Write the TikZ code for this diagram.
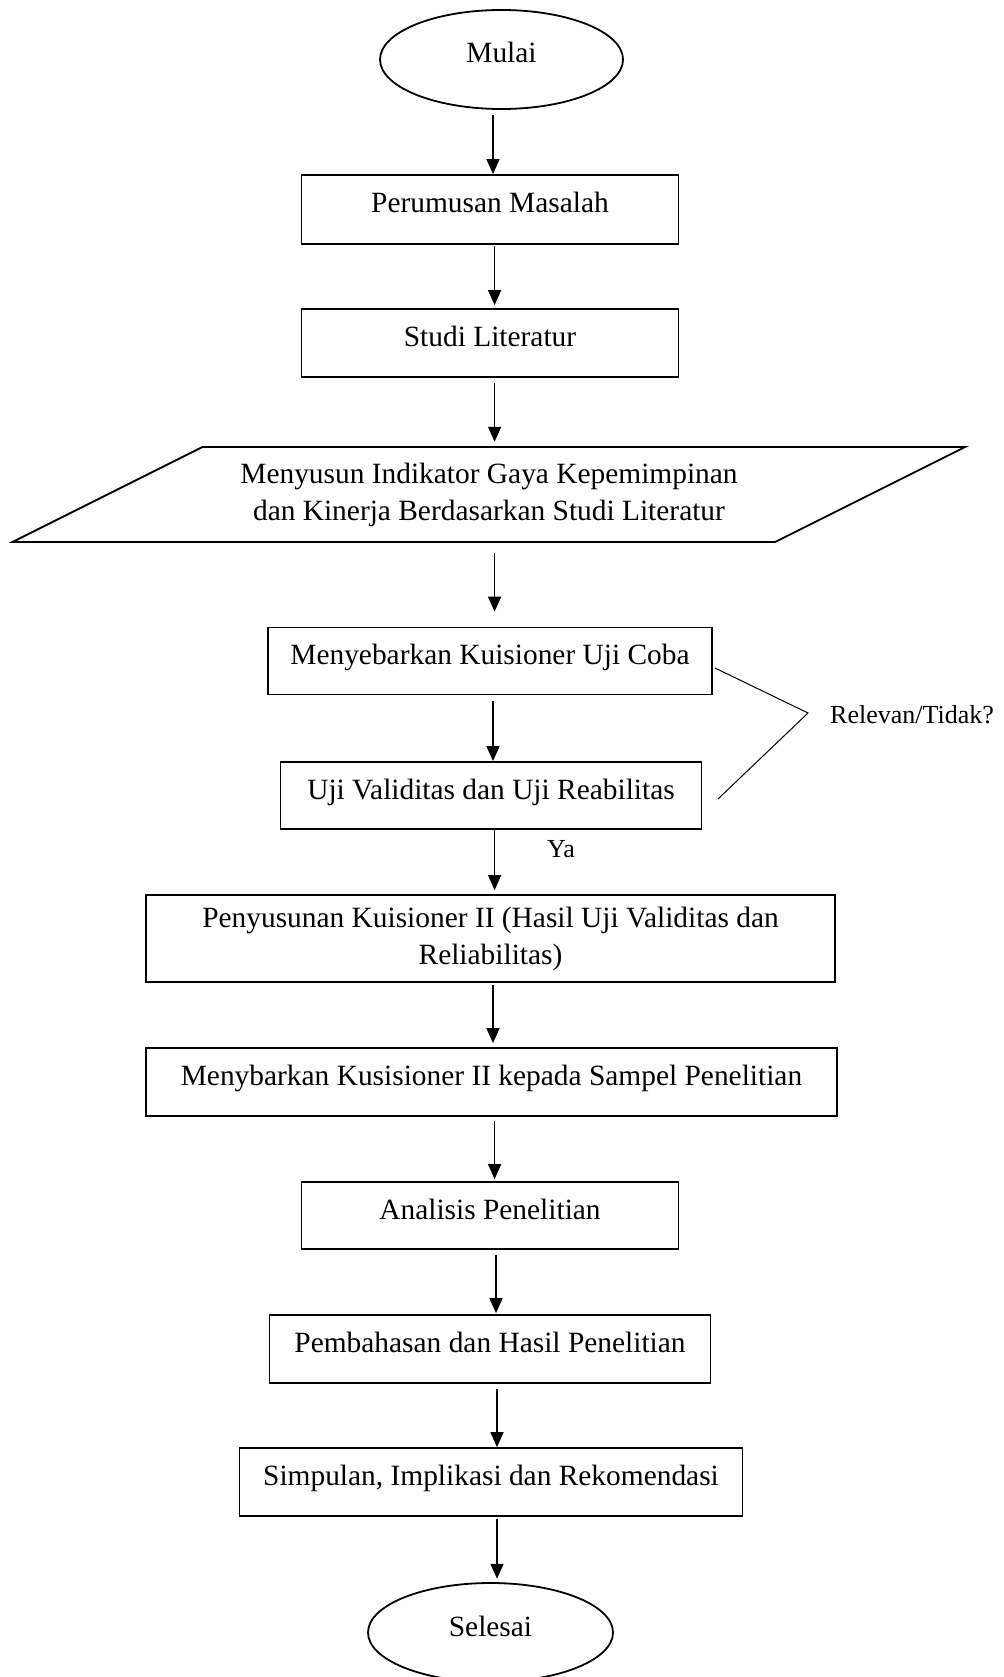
\documentclass[tikz,border=0pt]{standalone}
\usepackage{fontspec}
\setmainfont{Liberation Serif}
\usetikzlibrary{arrows.meta,shapes.geometric}
\begin{document}
\begin{tikzpicture}[x=1pt,y=-1pt,
  every node/.style={font=\fontsize{29.4}{37}\selectfont},
  stepbox/.style={draw, line width=1.8pt, rectangle, inner sep=0pt, text height=20.5pt, text depth=13.5pt},
  twobox/.style={draw, line width=1.8pt, rectangle, inner sep=0pt, align=center},
  term/.style={rectangle, inner sep=0pt, text height=20.5pt, text depth=13.5pt},
  outline/.style={line width=1.8pt},
  arr/.style={line width=1.6pt, -{Triangle[length=15pt,width=13pt]}},
  small/.style={font=\fontsize{26}{32}\selectfont, anchor=base west, inner sep=0pt},
]
\useasboundingbox (0,0) rectangle (1003,1677);
\fill[white] (0,0) rectangle (1003,1677);

\node[term, minimum width=245pt, minimum height=101pt] (mulai) at (501.5,59.5) {Mulai};
\draw[outline] (mulai.center) ellipse [x radius=121.5pt, y radius=49.5pt];
\node[stepbox, minimum width=377pt, minimum height=69pt] (perum) at (490,209.5) {Perumusan Masalah};
\node[stepbox, minimum width=377pt, minimum height=68pt] (studi) at (490,343) {Studi Literatur};
\node[align=center, minimum height=97pt, inner sep=0pt] (indik) at (489,494.5) {Menyusun Indikator Gaya Kepemimpinan\\dan Kinerja Berdasarkan Studi Literatur};
\draw[outline] (202.5,447) -- (965,447) -- (775,542) -- (12.5,542) -- cycle;
\node[stepbox, minimum width=444pt, minimum height=67pt] (sebar) at (490,661) {Menyebarkan Kuisioner Uji Coba};
\node[stepbox, minimum width=421pt, minimum height=67pt] (uji) at (491,795.5) {Uji Validitas dan Uji Reabilitas};
\node[twobox, minimum width=689pt, minimum height=87pt] (susun) at (490.5,938.5) {Penyusunan Kuisioner II (Hasil Uji Validitas dan\\Reliabilitas)};
\node[stepbox, minimum width=691pt, minimum height=68pt] (sebar2) at (491.5,1082) {Menybarkan Kusisioner II kepada Sampel Penelitian};
\node[stepbox, minimum width=377pt, minimum height=67pt] (anal) at (490,1215.5) {Analisis Penelitian};
\node[stepbox, minimum width=441pt, minimum height=68pt] (bahas) at (490,1349) {Pembahasan dan Hasil Penelitian};
\node[stepbox, minimum width=503pt, minimum height=68pt] (simp) at (491,1482) {Simpulan, Implikasi dan Rekomendasi};
\node[term, minimum width=245pt, minimum height=101pt] (selesai) at (490.5,1632.5) {Selesai};
\draw[outline] (selesai.center) ellipse [x radius=122.5pt, y radius=49.5pt];

\coordinate (ca) at (493,0);
\coordinate (cb) at (494.6,0);
\coordinate (cc) at (496,0);
\coordinate (cd) at (497,0);

\draw[arr, shorten <=5pt] (mulai.south -| ca) -- (perum.north -| ca);
\draw[arr, shorten <=1pt, shorten >=3pt] (perum.south -| cb) -- (studi.north -| cb);
\draw[arr, shorten <=5pt, shorten >=4pt] (studi.south -| cb) -- (indik.north -| cb);
\draw[arr, shorten <=10pt, shorten >=15pt] (indik.south -| cb) -- (sebar.north -| cb);
\draw[arr, shorten <=6pt] (sebar.south -| ca) -- (uji.north -| ca);
\draw[arr, shorten >=4pt] (uji.south -| cb) -- (susun.north -| cb);
\draw[arr, shorten <=2pt, shorten >=4pt] (susun.south -| ca) -- (sebar2.north -| ca);
\draw[arr, shorten <=4pt, shorten >=2pt] (sebar2.south -| cb) -- (anal.north -| cb);
\draw[arr, shorten <=5pt, shorten >=1pt] (anal.south -| cc) -- (bahas.north -| cc);
\draw[arr, shorten <=5pt] (bahas.south -| cd) -- (simp.north -| cd);
\draw[arr, shorten <=2pt, shorten >=3pt] (simp.south -| cd) -- (selesai.north -| cd);

\draw[line width=1pt] (715,668) -- (808,713) -- (718,799);
\node[small] (rel) at (830,723) {Relevan/Tidak?};
\node[small] (ya) at (547,857) {Ya};
\end{tikzpicture}
\end{document}
